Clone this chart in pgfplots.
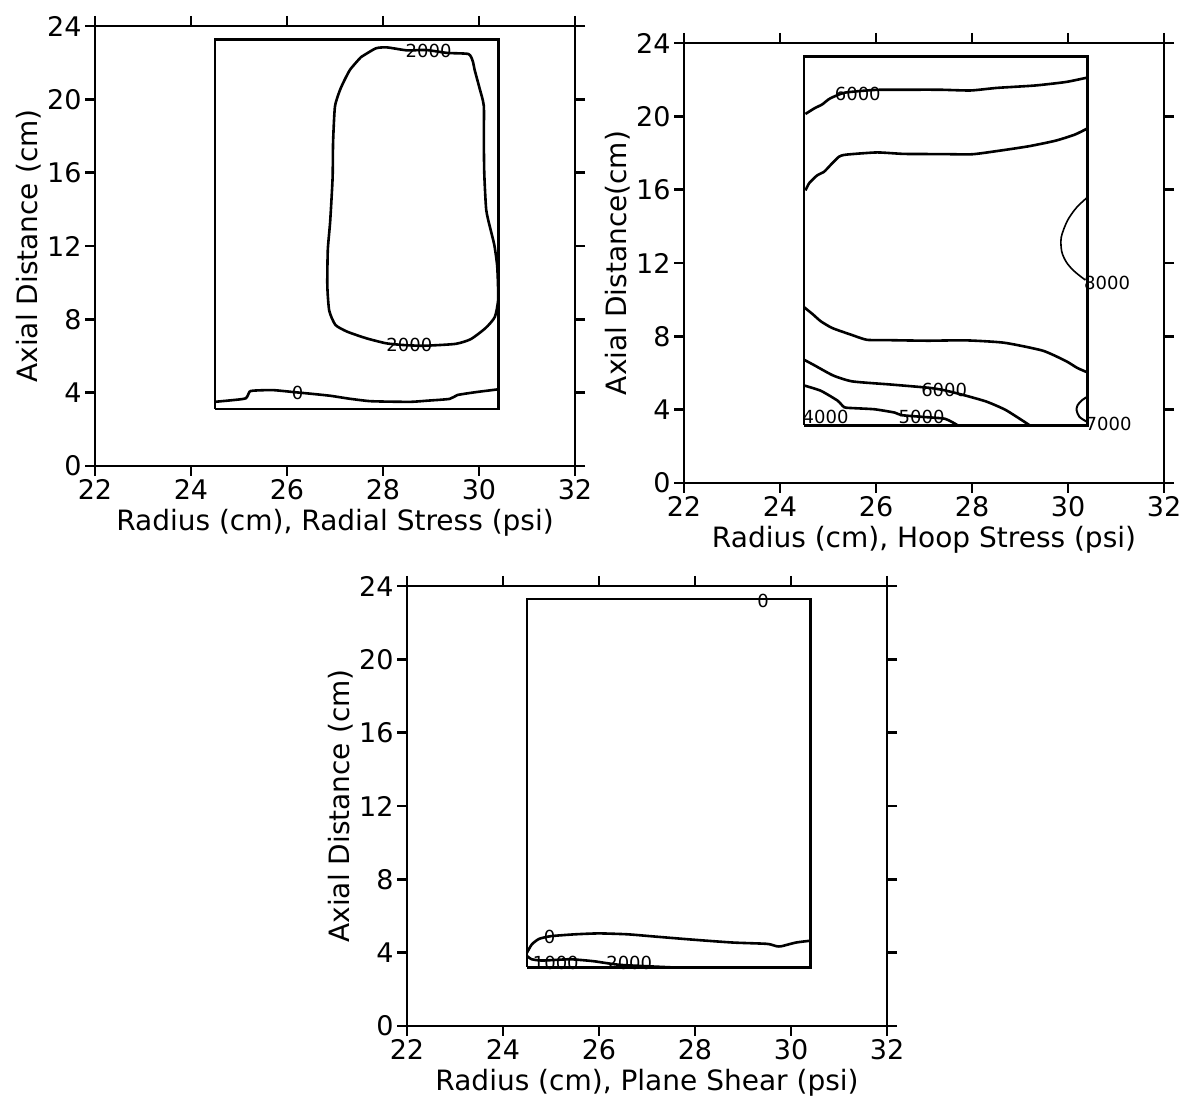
\documentclass[border=0pt]{standalone}
\usepackage{fontspec}
\setmainfont{DejaVu Sans}
\usepackage{pgfplots}
\pgfplotsset{compat=1.18}
\pgfplotsset{
  stressaxis/.style={
    scale only axis, width=240pt, height=220pt,
    xmin=22, xmax=32, ymin=0, ymax=24,
    xtick={22,24,...,32}, ytick={0,4,...,24},
    xtick pos=both, ytick pos=both,
    xticklabel pos=lower, yticklabel pos=left,
    tick align=outside, major tick length=5pt,
    axis line style={line width=1.3pt, black},
    major tick style={line width=1.3pt, black},
    /pgf/number format/assume math mode=true,
    tick label style={font=\fontsize{13.5}{15}\selectfont, inner sep=1.5pt},
    label style={font=\fontsize{14}{16}\selectfont},
    xlabel style={yshift=0.5pt},
    ylabel style={yshift=-2pt},
    clip=false,
  },
  cline/.style={black, line width=1.3pt, smooth, tension=0.35, mark=none},
}
\tikzset{clab/.style={font=\fontsize{9}{10}\selectfont, inner sep=0pt}}
\begin{document}
\begin{tikzpicture}
\useasboundingbox (0,0) rectangle (592pt,553pt);

% ---------------- Plot 1: Radial stress ----------------
\begin{axis}[stressaxis, at={(47.5pt,320pt)}, anchor=south west,
  xlabel={Radius (cm), Radial Stress (psi)},
  ylabel={Axial Distance (cm)}]
\addplot[black, line width=1.3pt] coordinates {(24.5,3.1) (30.4,3.1) (30.4,23.25) (24.5,23.25) (24.5,3.1)};
\addplot[cline] coordinates {
(27.54,22.30) (27.85,22.78) (28.09,22.83) (28.50,22.67) (28.90,22.69) (29.34,22.53)
(29.78,22.47) (29.87,22.08) (29.91,21.60) (30.01,20.62) (30.10,19.65) (30.10,17.89)
(30.11,15.94) (30.15,13.98) (30.23,13.01) (30.32,12.04) (30.38,10.87) (30.40,9.11)
(30.33,8.13) (30.14,7.53) (29.83,6.92) (29.51,6.66) (28.87,6.56) (28.47,6.59)
(28.07,6.69) (27.66,6.96) (27.26,7.32) (27.01,7.69) (26.88,8.47) (26.84,9.83)
(26.85,11.79) (26.90,13.36) (26.95,15.71) (26.96,17.67) (27.00,19.62) (27.12,20.61)
(27.31,21.60) (27.54,22.30)};
\addplot[cline] coordinates {
(24.5,3.50) (24.86,3.59) (25.14,3.69) (25.22,4.05) (25.30,4.11) (25.70,4.14)
(26.18,4.02) (26.50,3.94) (26.90,3.83) (27.30,3.67) (27.71,3.54) (28.11,3.51)
(28.59,3.50) (28.91,3.56) (29.39,3.66) (29.55,3.87) (29.94,4.03) (30.4,4.18)};
\node[clab] at (axis cs:28.95,22.65) {2000};
\node[clab] at (axis cs:28.55,6.6) {2000};
\node[clab] at (axis cs:26.22,4.0) {0};
\end{axis}

% ---------------- Plot 2: Hoop stress ----------------
\begin{axis}[stressaxis, at={(342pt,311.5pt)}, anchor=south west,
  xlabel={Radius (cm), Hoop Stress (psi)},
  ylabel={Axial Distance(cm)}]
\addplot[black, line width=1.3pt] coordinates {(24.5,3.15) (30.4,3.15) (30.4,23.25) (24.5,23.25) (24.5,3.15)};
\addplot[cline] coordinates {
(24.53,20.13) (24.72,20.44) (24.88,20.65) (25.04,20.97) (25.35,21.29) (25.98,21.44)
(26.54,21.45) (27.33,21.45) (27.97,21.41) (28.52,21.55) (29.31,21.68) (29.95,21.87) (30.38,22.10)};
\addplot[cline] coordinates {
(24.53,15.96) (24.61,16.36) (24.77,16.77) (24.92,16.98) (25.07,17.39) (25.23,17.80)
(25.38,17.91) (26.02,18.03) (26.58,17.95) (27.37,17.94) (28.00,17.93) (28.56,18.12)
(29.19,18.37) (29.74,18.67) (30.14,19.00) (30.39,19.32)};
\addplot[black, line width=0.8pt, smooth, tension=0.5] coordinates {
(30.39,15.55) (30.18,15.03) (29.99,14.32) (29.86,13.41) (29.87,12.62) (29.97,12.03)
(30.13,11.55) (30.36,11.07)};
\addplot[cline] coordinates {
(24.50,9.59) (24.68,9.21) (24.85,8.82) (25.09,8.45) (25.49,8.08) (25.81,7.81)
(26.28,7.79) (27.08,7.76) (27.87,7.78) (28.67,7.65) (29.47,7.22) (29.95,6.66)
(30.19,6.28) (30.38,6.06)};
\addplot[cline] coordinates {
(24.51,6.71) (24.71,6.43) (25.11,5.86) (25.51,5.54) (26.31,5.37) (27.11,5.19)
(27.42,5.06) (27.82,4.80) (28.30,4.44) (28.71,3.97) (29.20,3.15)};
\addplot[cline] coordinates {
(24.50,5.32) (24.85,5.03) (25.20,4.49) (25.34,4.13) (25.55,4.08) (25.97,4.02)
(26.39,3.84) (26.53,3.70) (27.00,3.60) (27.44,3.50) (27.70,3.15)};
\addplot[black, line width=1pt, smooth, tension=0.5] coordinates {
(30.40,4.70) (30.29,4.51) (30.20,4.24) (30.18,3.96) (30.24,3.60) (30.40,3.33)};
\node[clab] at (axis cs:25.62,21.22) {6000};
\node[clab, anchor=west] at (axis cs:30.33,10.9) {8000};
\node[clab] at (axis cs:27.42,5.06) {6000};
\node[clab] at (axis cs:24.95,3.62) {4000};
\node[clab] at (axis cs:26.95,3.58) {5000};
\node[clab, anchor=west] at (axis cs:30.36,3.2) {7000};
\end{axis}

% ---------------- Plot 3: Plane shear ----------------
\begin{axis}[stressaxis, at={(203.5pt,40pt)}, anchor=south west,
  xlabel={Radius (cm), Plane Shear (psi)},
  ylabel={Axial Distance (cm)}]
\addplot[black, line width=1.3pt] coordinates {(24.5,3.2) (30.4,3.2) (30.4,23.28) (24.5,23.28) (24.5,3.2)};
\addplot[cline] coordinates {
(24.5,4.0) (24.6,4.45) (24.75,4.75) (25.0,4.9) (25.5,5.0) (26.0,5.05) (26.6,5.0)
(27.2,4.87) (28.0,4.7) (28.8,4.55) (29.5,4.48) (29.7,4.35) (29.8,4.35) (30.1,4.55) (30.4,4.65)};
\addplot[cline] coordinates {
(24.5,3.82) (24.6,3.64) (24.82,3.57) (25.37,3.64) (25.62,3.6) (25.9,3.53)
(26.18,3.42) (26.46,3.33) (27.16,3.24) (27.5,3.2)};
\node[clab] at (axis cs:29.42,23.2) {0};
\node[clab] at (axis cs:24.97,4.88) {0};
\node[clab] at (axis cs:25.1,3.45) {1000};
\node[clab] at (axis cs:26.63,3.42) {2000};
\end{axis}
\end{tikzpicture}
\end{document}
